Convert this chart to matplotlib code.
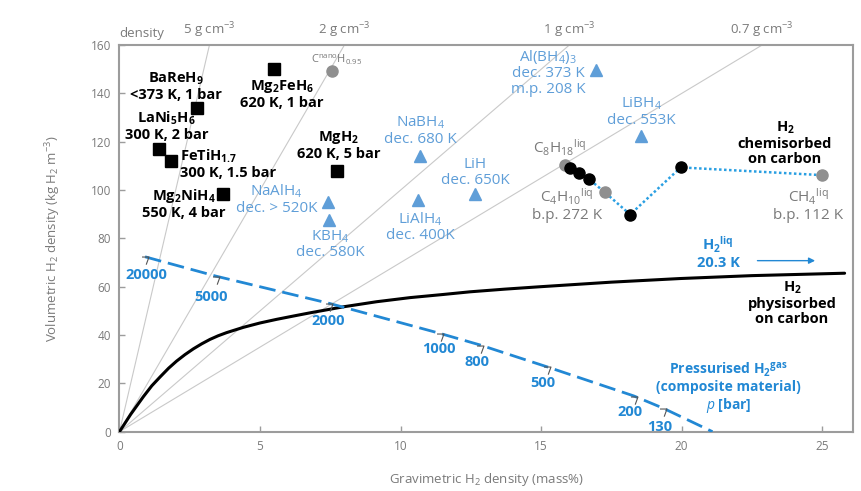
import matplotlib
matplotlib.use("Agg")
import matplotlib.pyplot as plt
from matplotlib.path import Path

plt.rcParams["font.family"] = ["Open Sans", "DejaVu Sans"]
plt.rcParams["mathtext.fontset"] = "custom"
plt.rcParams["mathtext.rm"] = "Open Sans"
plt.rcParams["mathtext.it"] = "Open Sans:italic"
plt.rcParams["mathtext.bf"] = "Open Sans:bold"

# ---- data -------------------------------------------------------------
# metal hydrides (black squares)
metal_names = ["Mg$_2$FeH$_6$", "BaReH$_9$", "LaNi$_5$H$_6$", "FeTiH$_{1.7}$", "Mg$_2$NiH$_4$", "MgH$_2$"]
metal_x = [5.5, 2.75, 1.42, 1.83, 3.67, 7.73]
metal_y = [150.0, 134.0, 117.0, 112.0, 98.2, 107.9]

# complex hydrides (blue triangles)
complex_names = ["NaAlH$_4$", "KBH$_4$", "NaBH$_4$", "LiAlH$_4$", "LiH", "Al(BH$_4$)$_3$", "LiBH$_4$"]
complex_x = [7.43, 7.47, 10.69, 10.63, 12.65, 16.95, 18.55]
complex_y = [95.2, 87.6, 114.2, 95.9, 98.2, 149.6, 122.3]

# hydrocarbons (grey circles)
hc_names = ["C$^{\\mathrm{nano}}$H$_{0.95}$", "C$_8$H$_{18}$$^{\\mathrm{liq}}$",
            "C$_4$H$_{10}$$^{\\mathrm{liq}}$", "CH$_4$$^{\\mathrm{liq}}$"]
hc_x = [7.57, 15.85, 17.26, 25.0]
hc_y = [149.4, 110.6, 99.2, 106.2]

# hydrogen chemisorbed on carbon (black circles)
chem_x = [16.03, 16.36, 16.72, 18.17, 19.97]
chem_y = [109.0, 107.2, 104.4, 89.9, 109.4]

# connecting series through the carbon-based points
series_x = [15.85, 16.03, 16.36, 16.72, 17.26, 18.17, 19.97, 25.0]
series_y = [110.6, 109.0, 107.2, 104.4, 99.2, 89.9, 109.4, 106.2]

# hydrogen physisorbed on carbon
phys_x = [0.0, 0.4, 0.85, 1.15, 1.44, 1.75, 2.03, 2.33, 2.63, 2.93, 3.22, 3.51, 3.81,
          4.41, 5.0, 5.59, 6.2, 6.78, 7.4, 7.97, 9.15, 10.34, 11.52, 12.47, 13.7,
          14.96, 17.5, 19.95, 22.5, 25.8]
phys_y = [0.0, 7.2, 14.5, 19.0, 22.6, 26.3, 29.2, 31.9, 34.3, 36.4, 38.2, 39.7, 41.0,
          43.2, 45.0, 46.5, 47.9, 49.2, 50.5, 51.7, 53.8, 55.5, 56.8, 57.9, 59.0,
          60.0, 61.9, 63.4, 64.6, 65.6]

# pressurised hydrogen in composite vessel
press_bar = ["20000", "5000", "2000", "1000", "800", "500", "200", "130"]
press_x = [0.91, 3.43, 7.47, 11.4, 12.83, 15.2, 18.3, 19.35]
press_y = [72.4, 64.4, 53.1, 40.7, 35.9, 26.9, 14.8, 9.7]
press_end_x = 21.1

# liquid hydrogen
liq_h2_y = 70.8

# material density reference lines (g cm^-3)
densities = [5, 2, 1, 0.7]
density_labels = ["5 g cm$^{-3}$", "2 g cm$^{-3}$", "1 g cm$^{-3}$", "0.7 g cm$^{-3}$"]

x_ticks = [0, 5, 10, 15, 20, 25]
y_ticks = [0, 20, 40, 60, 80, 100, 120, 140, 160]

# ---- styling ----------------------------------------------------------
GREY_AX = "#9c9c9c"
GREY_TXT = "#7a7a7a"
LIGHT_BLUE = "#5f9ed8"
BLUE = "#2288d4"
DOT_BLUE = "#2a9fe2"
CIRCLE_GREY = "#8f8f8f"

fig = plt.figure(figsize=(8.62, 4.91), dpi=100)
ax = fig.add_axes([0.1386, 0.1208, 0.8510, 0.7872])
XMAX, YMAX = 26.1, 160
ax.set_xlim(0, XMAX)
ax.set_ylim(0, YMAX)

for sp in ax.spines.values():
    sp.set_color(GREY_AX)
    sp.set_linewidth(1.5)
ax.set_xticks(x_ticks)
ax.set_yticks(y_ticks)
ax.tick_params(direction="in", length=4, width=1, color=GREY_AX, labelcolor=GREY_TXT,
               labelsize=8.5, pad=6)
ax.set_xlabel("Gravimetric H$_2$ density (mass%)", color=GREY_TXT, fontsize=9.5, labelpad=13)
ax.set_ylabel("Volumetric H$_2$ density (kg H$_2$ m$^{-3}$)", color=GREY_TXT, fontsize=9.5, labelpad=20)

# density lines
for d, lab in zip(densities, density_labels):
    slope = 10 * d
    ax.plot([0, XMAX], [0, slope * XMAX], color="#c9c9c9", lw=0.8, zorder=1)
    ax.text(YMAX / slope, YMAX + 2.0, lab, color=GREY_TXT, fontsize=9.5,
            ha="center", va="bottom", clip_on=False)
ax.text(0.8, YMAX + 2.0, "density", color=GREY_TXT, fontsize=9.5, ha="center",
        va="bottom", clip_on=False)

# physisorbed curve
ax.plot(phys_x, phys_y, color="black", lw=2.2, zorder=3, solid_capstyle="round",
        solid_joinstyle="round")

# pressurised hydrogen
ax.plot(press_x + [press_end_x], press_y + [0], color=BLUE, lw=2.0,
        dashes=(6, 2.5), zorder=3, clip_on=True)
hook = Path([(-0.5, 0.5), (0.5, 0.5), (0.1, -0.6)], [Path.MOVETO, Path.LINETO, Path.LINETO])
ax.plot(press_x, [v - 1.5 for v in press_y], ls="none", marker=hook, ms=6,
        mfc="none", mec="#555555", mew=0.8, zorder=4)
press_lab_pos = [(0.94, 64.8), (3.26, 55.9), (7.43, 45.9), (11.35, 34.1),
                 (12.71, 29.0), (15.08, 20.0), (18.17, 8.3), (19.23, 2.1)]
for lab, (lx, ly) in zip(press_bar, press_lab_pos):
    ax.text(lx, ly, lab, color=BLUE, fontsize=10.5, fontweight="bold", ha="center", va="center")
ax.text(21.67, 18.2,
        "Pressurised H$_\\mathbf{2}$$^{\\mathbf{gas}}$\n(composite material)\n$p$ [bar]",
        color=BLUE, fontsize=10, fontweight="bold", ha="center", va="center", linespacing=1.1)

# liquid hydrogen
ax.annotate("", xy=(24.85, liq_h2_y), xytext=(22.6, liq_h2_y),
            arrowprops=dict(arrowstyle="-|>", color=BLUE, lw=1.0, mutation_scale=9))
ax.text(21.3, 74.3, "H$_\\mathbf{2}$$^{\\mathbf{liq}}$\n20.3 K", color=BLUE, fontsize=10.5,
        fontweight="bold", ha="center", va="center", linespacing=1.05)

# chemisorbed series
ax.plot(series_x, series_y, color=DOT_BLUE, lw=1.8, ls=(0, (1, 1)), zorder=3)
ax.plot(hc_x, hc_y, ls="none", marker="o", ms=8, mfc=CIRCLE_GREY, mec=CIRCLE_GREY, zorder=5)
ax.plot(chem_x, chem_y, ls="none", marker="o", ms=8, mfc="black", mec="black", zorder=5)

# hydrides
ax.plot(metal_x, metal_y, ls="none", marker="s", ms=8.5, mfc="black", mec="black", zorder=5)
ax.plot(complex_x, complex_y, ls="none", marker="^", ms=8.5, mfc=LIGHT_BLUE, mec=LIGHT_BLUE, zorder=5)

# labels for metal hydrides
bk = dict(color="black", fontsize=10.5, fontweight="bold", va="center", linespacing=1.1)
ax.text(5.77, 139.7, "Mg$_\\mathbf{2}$FeH$_\\mathbf{6}$\n620 K, 1 bar", ha="center", **bk)
ax.text(2.0, 143.0, "BaReH$_\\mathbf{9}$\n<373 K, 1 bar", ha="center", **bk)
ax.text(1.68, 126.6, "LaNi$_\\mathbf{5}$H$_\\mathbf{6}$\n300 K, 2 bar", ha="center", **bk)
ax.text(2.15, 110.8, "FeTiH$_\\mathbf{1.7}$\n300 K, 1.5 bar", ha="left", **bk)
ax.text(2.3, 94.3, "Mg$_\\mathbf{2}$NiH$_\\mathbf{4}$\n550 K, 4 bar", ha="center", **bk)
ax.text(7.79, 118.5, "MgH$_\\mathbf{2}$\n620 K, 5 bar", ha="center", **bk)
ax.text(23.68, 119.7, "H$_\\mathbf{2}$\nchemisorbed\non carbon", ha="center", **bk)
ax.text(23.93, 53.5, "H$_\\mathbf{2}$\nphysisorbed\non carbon", ha="center", **bk)

# labels for complex hydrides
bl = dict(color=LIGHT_BLUE, fontsize=11, va="center", linespacing=1.05)
ax.text(5.6, 96.3, "NaAlH$_4$\ndec. > 520K", ha="center", **bl)
ax.text(7.5, 77.5, "KBH$_4$\ndec. 580K", ha="center", **bl)
ax.text(10.7, 124.6, "NaBH$_4$\ndec. 680 K", ha="center", **bl)
ax.text(10.7, 84.9, "LiAlH$_4$\ndec. 400K", ha="center", **bl)
ax.text(12.65, 107.2, "LiH\ndec. 650K", ha="center", **bl)
ax.text(15.25, 148.7, "Al(BH$_4$)$_3$\ndec. 373 K\nm.p. 208 K", ha="center", **bl)
ax.text(18.58, 132.4, "LiBH$_4$\ndec. 553K", ha="center", **bl)

# labels for hydrocarbons
gr = dict(color=GREY_TXT, fontsize=11, va="center", linespacing=1.05)
ax.text(7.73, 153.8, hc_names[0], ha="center", fontsize=8, color=GREY_TXT, va="center")
ax.text(15.68, 117.3, hc_names[1], ha="center", **gr)
ax.text(15.93, 93.9, hc_names[2] + "\nb.p. 272 K", ha="center", **gr)
ax.text(24.5, 93.8, hc_names[3] + "\nb.p. 112 K", ha="center", **gr)

fig.savefig("out.png", dpi=100)
